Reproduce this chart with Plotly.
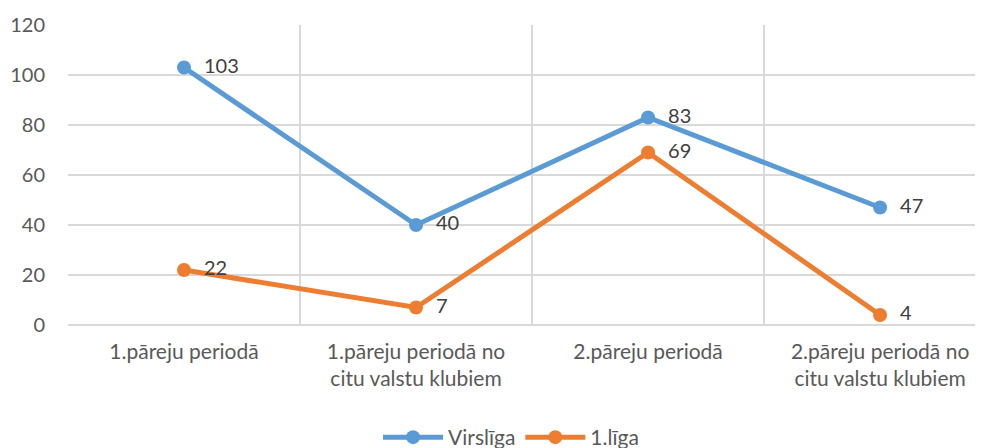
import plotly.graph_objects as go

categories = ["1.pāreju periodā", "1.pāreju periodā no<br>citu valstu klubiem",
              "2.pāreju periodā", "2.pāreju periodā no<br>citu valstu klubiem"]
virsliga = [103, 40, 83, 47]
liga1 = [22, 7, 69, 4]
y_ticks = [0, 20, 40, 60, 80, 100, 120]

x_pos = list(range(len(categories)))
FONT = "Lato"
PAD = "\u00a0\u00a0"

fig = go.Figure()
fig.add_trace(go.Scatter(
    x=x_pos, y=virsliga, name="Virslīga", mode="lines+markers+text",
    text=[PAD + str(v) for v in virsliga], textposition="middle right",
    textfont=dict(size=20, color="#404040", family=FONT),
    line=dict(color="#5B9BD5", width=5), marker=dict(size=14, color="#5B9BD5"),
    cliponaxis=False))
fig.add_trace(go.Scatter(
    x=x_pos, y=liga1, name="1.līga", mode="lines+markers+text",
    text=[PAD + str(v) for v in liga1], textposition="middle right",
    textfont=dict(size=20, color="#404040", family=FONT),
    line=dict(color="#ED7D31", width=5), marker=dict(size=14, color="#ED7D31"),
    cliponaxis=False))

fig.update_layout(
    width=983, height=448,
    margin=dict(l=60, r=0, t=17, b=131, autoexpand=False),
    paper_bgcolor="white", plot_bgcolor="white",
    font=dict(family=FONT, size=21, color="#595959"),
    showlegend=True,
    legend=dict(orientation="h", x=0.48, xanchor="center", y=-0.375, yanchor="middle",
                font=dict(size=21, color="#595959"), itemwidth=60),
    xaxis=dict(
        range=[-0.5, 3.478], tickmode="array", tickvals=x_pos, ticktext=categories,
        showgrid=False, zeroline=False, showline=False, ticks="",
        ticklabelstandoff=12,
        minor=dict(tickmode="linear", tick0=-0.5, dtick=1, showgrid=True,
                   gridcolor="#D9D9D9", gridwidth=1.5, ticks=""),
        tickfont=dict(size=21, color="#595959"), fixedrange=True, automargin=False),
    yaxis=dict(
        range=[0, 120], tickvals=y_ticks, showgrid=True, gridcolor="#D9D9D9",
        gridwidth=1.5, zeroline=True, zerolinecolor="#D9D9D9", zerolinewidth=1.5,
        showline=False, ticks="", ticklabelstandoff=22,
        tickfont=dict(size=20, color="#595959"), fixedrange=True, automargin=False),
)

fig.write_html("out.html")
